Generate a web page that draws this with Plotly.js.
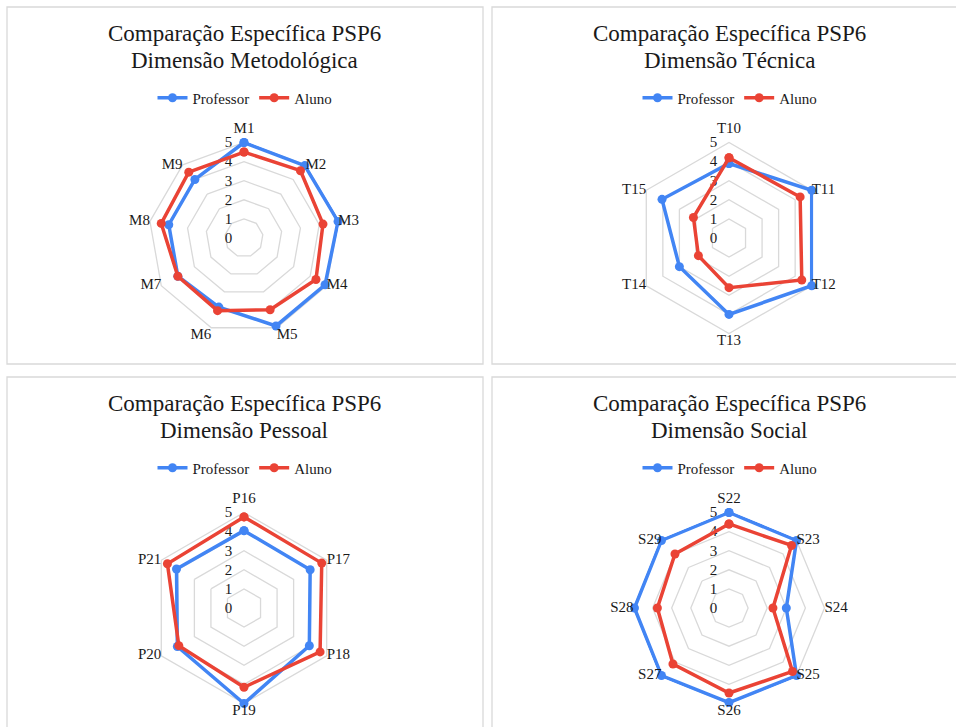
<!DOCTYPE html>
<html>
<head>
<meta charset="utf-8">
<script src="https://cdn.plot.ly/plotly-3.0.1.min.js"></script>
<style>html,body{margin:0;padding:0;background:#fff;}#chart{width:956px;height:727px;}</style>
</head>
<body>
<div id="chart"></div>
<script>
// ---------- DATA ----------
const seriesNames = ["Professor", "Aluno"];
const titleTop = "Comparação Específica PSP6";
const panelTitles = ["Dimensão Metodológica", "Dimensão Técnica", "Dimensão Pessoal", "Dimensão Social"];

const metodCats = ["M1","M2","M3","M4","M5","M6","M7","M8","M9"];
const metodProfessor = [5.0, 4.95, 5.0, 4.9, 4.9, 3.85, 4.0, 4.0, 4.0];
const metodAluno     = [4.5, 4.6, 4.2, 4.35, 4.0, 4.05, 4.0, 4.4, 4.5];

const tecCats = ["T10","T11","T12","T13","T14","T15"];
const tecProfessor = [3.9, 5.0, 5.0, 4.0, 3.0, 4.05];
const tecAluno     = [4.2, 4.3, 4.4, 2.6, 1.85, 2.15];

const pesCats = ["P16","P17","P18","P19","P20","P21"];
const pesProfessor = [4.05, 4.0, 3.95, 5.0, 4.03, 4.08];
const pesAluno     = [4.77, 4.7, 4.6, 4.15, 3.94, 4.63];

const socCats = ["S22","S23","S24","S25","S26","S27","S28","S29"];
const socProfessor = [5.0, 5.0, 3.0, 5.0, 4.95, 5.0, 4.95, 5.0];
const socAluno     = [4.4, 4.63, 2.3, 4.7, 4.45, 4.15, 3.75, 4.0];

const radialTicks = [0, 1, 2, 3, 4, 5];
const radialMax = 5;

// ---------- STYLE / LAYOUT ----------
const W = 956, H = 727;
const colors = ["#4285F4", "#EA4335"];
const serif = "Liberation Serif";
const textCol = "#1a1a1a";
const gridCol = "#d9d9d9";
const R5 = 95.5;                 // pixel radius of the value-5 ring
const rangePad = 1.02;           // small headroom so lines on the outer ring are not clipped
const R = R5 * rangePad;
const colX = [244, 729];
const rowY = [238, 608];

const panels = [
  {cats: metodCats, vals: [metodProfessor, metodAluno], col: 0, row: 0},
  {cats: tecCats,   vals: [tecProfessor, tecAluno],     col: 1, row: 0},
  {cats: pesCats,   vals: [pesProfessor, pesAluno],     col: 0, row: 1},
  {cats: socCats,   vals: [socProfessor, socAluno],     col: 1, row: 1}
];

const px = x => x / W;
const py = y => (H - y) / H;

// label placement around the outer ring (style only)
function labelInfo(i, n) {
  const ang = 90 - 360 * i / n;
  const c = Math.cos(ang * Math.PI / 180), s = Math.sin(ang * Math.PI / 180);
  const v = s > 0.8 ? "top" : (s < -0.8 ? "bottom" : "middle");
  const h = c > 0.2 ? "right" : (c < -0.2 ? "left" : "center");
  return {pos: v + " " + h, pad: v === "top" ? 7 : 0};
}

const data = [];
const layout = {
  width: W, height: H,
  margin: {l: 0, r: 0, t: 0, b: 0},
  paper_bgcolor: "#ffffff",
  plot_bgcolor: "#ffffff",
  showlegend: true,
  annotations: [],
  shapes: []
};

// panel frames
const frames = [[7, 7, 483, 364], [492, 7, 970, 364], [7, 377, 483, 740], [492, 377, 970, 740]];
frames.forEach(f => {
  layout.shapes.push({type: "rect", xref: "paper", yref: "paper",
    x0: px(f[0]), x1: px(f[2]), y0: py(f[1]), y1: py(f[3]),
    line: {color: gridCol, width: 1.3}, fillcolor: "rgba(0,0,0,0)"});
});

panels.forEach((p, i) => {
  const k = i + 1;
  const polarKey = k === 1 ? "polar" : "polar" + k;
  const legendKey = k === 1 ? "legend" : "legend" + k;
  const cx = colX[p.col], cy = rowY[p.row];
  const offY = p.row * 370;

  p.vals.forEach((v, s) => {
    data.push({
      type: "scatterpolar",
      mode: "lines+markers",
      name: seriesNames[s],
      r: v.concat([v[0]]),
      theta: p.cats.concat([p.cats[0]]),
      subplot: polarKey,
      legend: legendKey,
      cliponaxis: false,
      line: {color: colors[s], width: 3.5},
      marker: {color: colors[s], size: 9},
      hoverinfo: "skip"
    });
  });

  // category labels at the outer ring
  const info = p.cats.map((c, j) => labelInfo(j, p.cats.length));
  data.push({
    type: "scatterpolar",
    mode: "text+markers",
    r: p.cats.map(() => radialMax),
    theta: p.cats,
    text: p.cats,
    textposition: info.map(o => o.pos),
    textfont: {family: serif, size: 15, color: textCol},
    marker: {size: info.map(o => o.pad), color: "rgba(0,0,0,0)", opacity: 0, line: {width: 0}},
    subplot: polarKey,
    showlegend: false,
    cliponaxis: false,
    hoverinfo: "skip"
  });

  layout[polarKey] = {
    domain: {x: [px(cx - R), px(cx + R)], y: [py(cy + R), py(cy - R)]},
    bgcolor: "rgba(0,0,0,0)",
    gridshape: "linear",
    radialaxis: {
      range: [0, radialMax * rangePad], tickvals: radialTicks, angle: 90, side: "counterclockwise",
      tickangle: 90, showline: false, ticks: "outside", ticklen: 6, tickcolor: "rgba(0,0,0,0)",
      gridcolor: gridCol, gridwidth: 1.3, layer: "below traces",
      tickfont: {family: serif, size: 15, color: textCol}
    },
    angularaxis: {
      type: "category", categoryarray: p.cats, direction: "clockwise", rotation: 90,
      showgrid: false, showline: false, ticks: "",
      showticklabels: false, layer: "below traces"
    }
  };

  layout[legendKey] = {
    orientation: "h", x: px(cx + 1), xanchor: "center", y: py(98 + offY), yanchor: "middle",
    font: {family: serif, size: 15, color: textCol}, bgcolor: "rgba(0,0,0,0)"
  };

  layout.annotations.push({xref: "paper", yref: "paper", x: px(cx), y: py(33 + offY),
    xanchor: "center", yanchor: "middle", showarrow: false, text: titleTop,
    font: {family: serif, size: 23, color: textCol}});
  layout.annotations.push({xref: "paper", yref: "paper", x: px(cx), y: py(60 + offY),
    xanchor: "center", yanchor: "middle", showarrow: false, text: panelTitles[i],
    font: {family: serif, size: 23, color: textCol}});
});

Plotly.newPlot("chart", data, layout, {staticPlot: true, displayModeBar: false});
</script>
</body>
</html>
